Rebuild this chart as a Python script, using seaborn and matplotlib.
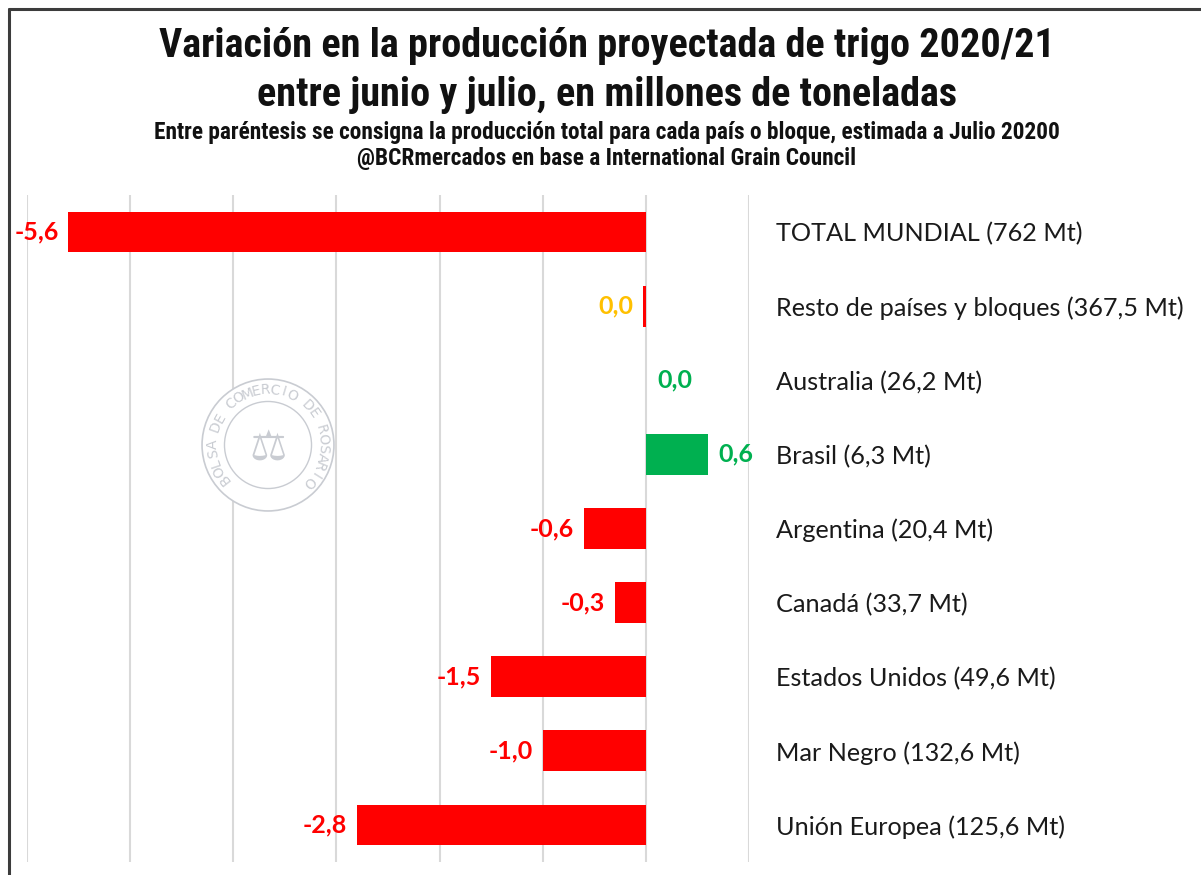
import numpy as np
import pandas as pd
import matplotlib
matplotlib.use("Agg")
import matplotlib.pyplot as plt
from matplotlib.lines import Line2D
from matplotlib.patches import Circle
import seaborn as sns

# --- DATOS ---
categorias = [
    "TOTAL MUNDIAL (762 Mt)",
    "Resto de países y bloques (367,5 Mt)",
    "Australia (26,2 Mt)",
    "Brasil (6,3 Mt)",
    "Argentina (20,4 Mt)",
    "Canadá (33,7 Mt)",
    "Estados Unidos (49,6 Mt)",
    "Mar Negro (132,6 Mt)",
    "Unión Europea (125,6 Mt)",
]
variaciones = [-5.6, -0.03, 0.0, 0.6, -0.6, -0.3, -1.5, -1.0, -2.8]

titulo = ["Variación en la producción proyectada de trigo 2020/21",
          "entre junio y julio, en millones de toneladas"]
subtitulo = ["Entre paréntesis se consigna la producción total para cada país o bloque, estimada a Julio 20200",
             "@BCRmercados en base a International Grain Council"]

ROJO = "#FF0000"
VERDE = "#00B050"
NARANJA = "#FFC000"
bar_colors = [ROJO, ROJO, VERDE, VERDE, ROJO, ROJO, ROJO, ROJO, ROJO]
label_colors = [ROJO, NARANJA, VERDE, VERDE, ROJO, ROJO, ROJO, ROJO, ROJO]

TITLE_FONT = ["Roboto Condensed", "Roboto", "DejaVu Sans"]
BODY_FONT = ["Lato", "DejaVu Sans"]

sns.set_theme(style="white")
plt.rcParams["font.family"] = BODY_FONT

W, H = 1201, 875
fig = plt.figure(figsize=(W / 100, H / 100), dpi=100)
ax = fig.add_axes([27 / W, 1 - 862 / H, (749 - 27) / W, (862 - 195) / H])

df = pd.DataFrame({"pais": categorias, "variacion": variaciones})
sns.barplot(data=df, y="pais", x="variacion", hue="pais", palette=bar_colors,
            orient="h", width=0.55, saturation=1, legend=False, linewidth=0, ax=ax)

ax.set_xlim(-6, 1)
ax.set_ylim(len(categorias) - 0.5, -0.5)
ax.set_xticks(range(-6, 2))
ax.grid(axis="x", color="#d9d9d9", lw=1.5)
ax.grid(axis="y", visible=False)
ax.set_axisbelow(True)
ax.tick_params(axis="x", length=0, labelbottom=False)
ax.yaxis.tick_right()
ax.tick_params(axis="y", length=0, pad=19.5, labelsize=18.2, labelcolor="#1a1a1a")
ax.set_xlabel("")
ax.set_ylabel("")
for s in ax.spines.values():
    s.set_visible(False)

# etiquetas de datos
for i, (v, c) in enumerate(zip(variaciones, label_colors)):
    txt = f"{v:.1f}".replace("-0.0", "0.0").replace(".", ",")
    if v < 0:
        ax.annotate(txt, xy=(v, i), xytext=(-7, 0), textcoords="offset points",
                    ha="right", va="center", color=c, fontsize=18, fontweight="bold")
    else:
        ax.annotate(txt, xy=(v, i), xytext=(8, 0), textcoords="offset points",
                    ha="left", va="center", color=c, fontsize=18, fontweight="bold")

# titulos
for linea, y in zip(titulo, [46, 95]):
    fig.text(0.505, 1 - y / H, linea, ha="center", va="center", fontsize=29,
             fontweight="bold", family=TITLE_FONT, color="#111111")
for linea, y in zip(subtitulo, [132, 158]):
    fig.text(0.505, 1 - y / H, linea, ha="center", va="center", fontsize=16.8,
             fontweight="bold", family=TITLE_FONT, color="#111111")

# marco
fig.add_artist(Line2D([9 / W, 9 / W], [0, 1 - 9 / H], color="#3c3c3c", lw=2.2))
fig.add_artist(Line2D([9 / W, 1], [1 - 9 / H, 1 - 9 / H], color="#3c3c3c", lw=2.2))

# sello de agua
cx, cy, r = 268, 445, 68
wm = fig.add_axes([(cx - r) / W, 1 - (cy + r) / H, 2 * r / W, 2 * r / H])
wm.set_xlim(-1, 1)
wm.set_ylim(-1, 1)
wm.axis("off")
gris = "#c9ccd2"
wm.add_patch(Circle((0, 0), 0.97, facecolor="white", edgecolor=gris, lw=1.2))
wm.add_patch(Circle((0, 0), 0.64, facecolor="none", edgecolor=gris, lw=1.0))
sello = "BOLSA DE COMERCIO DE ROSARIO"
angs = np.linspace(218, -42, len(sello))
for ch, a in zip(sello, angs):
    rad = np.deg2rad(a)
    wm.text(0.81 * np.cos(rad), 0.81 * np.sin(rad), ch, rotation=a - 90,
            ha="center", va="center", fontsize=10, color=gris, family="DejaVu Sans")
wm.text(0, -0.05, "\u2696", ha="center", va="center", fontsize=30, color=gris,
        family="DejaVu Sans")

fig.savefig("out.png", dpi=100)
